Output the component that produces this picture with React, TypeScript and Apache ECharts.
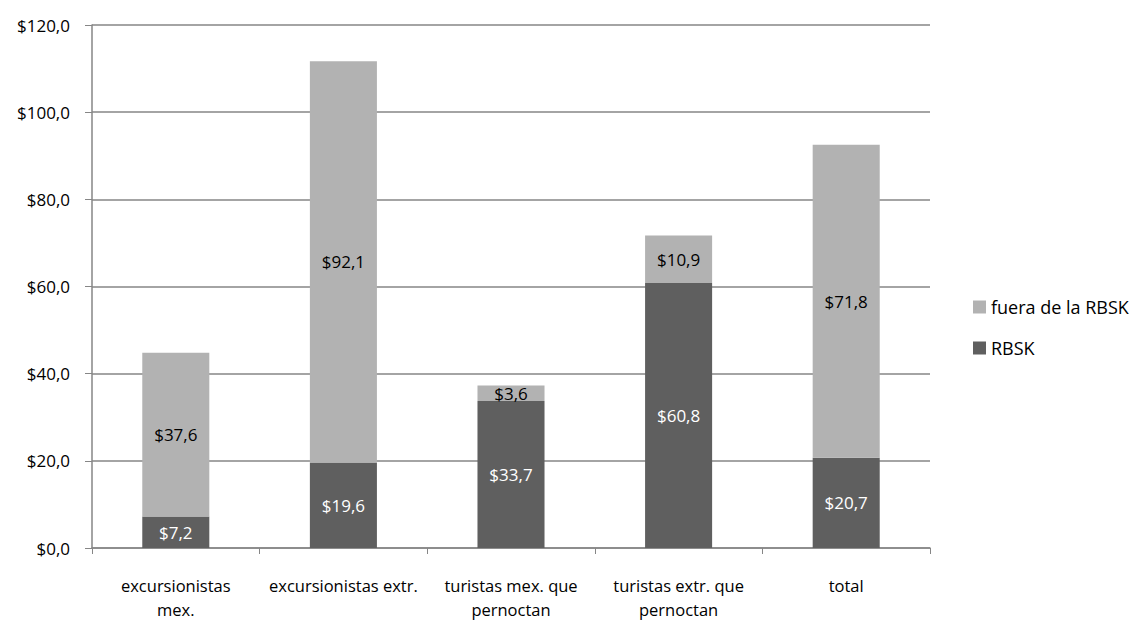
import React, { useEffect, useRef } from "react";
import * as echarts from "echarts";

const categories = [
  "excursionistas\nmex.",
  "excursionistas extr.",
  "turistas mex. que\npernoctan",
  "turistas extr. que\npernoctan",
  "total",
];
const rbsk = [7.2, 19.6, 33.7, 60.8, 20.7];
const fuera = [37.6, 92.1, 3.6, 10.9, 71.8];
const yTicks = [0, 20, 40, 60, 80, 100, 120];

const fmt = (v: number) => "$" + v.toFixed(1).replace(".", ",");
const FONT = "'Open Sans', 'Noto Sans', sans-serif";

export default function App() {
  const ref = useRef<HTMLDivElement>(null);
  useEffect(() => {
    const chart = echarts.init(ref.current!, null, { renderer: "svg" });
    chart.setOption({
      animation: false,
      textStyle: { fontFamily: FONT },
      grid: { left: 92, right: 199, top: 25, bottom: 71, containLabel: false },
      legend: {
        orient: "vertical",
        left: 968,
        top: 293,
        itemWidth: 13,
        itemHeight: 13,
        itemGap: 23,
        icon: "rect",
        textStyle: { fontSize: 18, color: "#000", fontFamily: FONT },
        data: ["fuera de la RBSK", "RBSK"],
      },
      xAxis: {
        type: "category",
        data: categories,
        axisLine: { lineStyle: { color: "#868686", width: 1.5 } },
        axisTick: { show: true, alignWithLabel: false, length: 6, lineStyle: { color: "#868686" } },
        axisLabel: {
          color: "#000",
          fontSize: 16.5,
          lineHeight: 24,
          margin: 25,
          interval: 0,
          fontFamily: FONT,
        },
      },
      yAxis: {
        type: "value",
        min: yTicks[0],
        max: yTicks[yTicks.length - 1],
        interval: 20,
        axisLine: { show: true, lineStyle: { color: "#868686", width: 1.5 } },
        axisTick: { show: true, length: 7, lineStyle: { color: "#868686" } },
        splitLine: { lineStyle: { color: "#868686", width: 1.5 } },
        axisLabel: {
          color: "#000",
          fontSize: 17,
          margin: 22,
          formatter: (v: number) => fmt(v),
          fontFamily: FONT,
        },
      },
      series: [
        {
          name: "RBSK",
          type: "bar",
          stack: "a",
          data: rbsk,
          barWidth: "40%",
          itemStyle: { color: "#5f5f5f" },
          label: {
            show: true,
            position: "inside",
            color: "#fff",
            fontSize: 17,
            fontFamily: FONT,
            formatter: (p: any) => fmt(p.value),
          },
        },
        {
          name: "fuera de la RBSK",
          type: "bar",
          stack: "a",
          data: fuera,
          barWidth: "40%",
          itemStyle: { color: "#b2b2b2" },
          label: {
            show: true,
            position: "inside",
            color: "#000",
            fontSize: 17,
            fontFamily: FONT,
            formatter: (p: any) => fmt(p.value),
          },
        },
      ],
    });
    return () => chart.dispose();
  }, []);
  return <div ref={ref} style={{ width: 1129, height: 621, position: "absolute", left: 0, top: 0 }} />;
}
